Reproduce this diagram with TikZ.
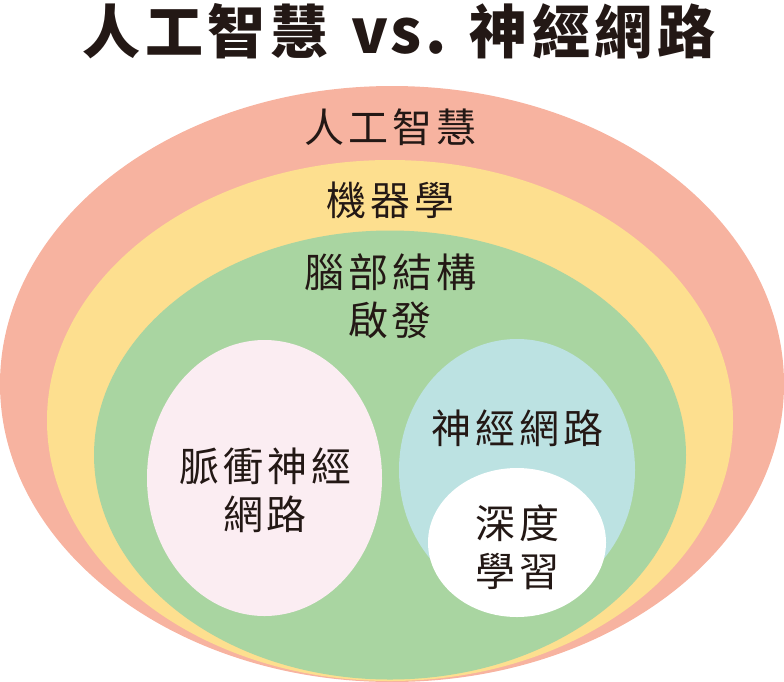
\documentclass[tikz,border=0pt]{standalone}
\usepackage{fontspec}
\newfontfamily\cjk{Noto Sans CJK TC}
\definecolor{salmon}{RGB}{247,179,160}
\definecolor{ylw}{RGB}{253,223,143}
\definecolor{grn}{RGB}{169,213,161}
\definecolor{pnk}{RGB}{251,237,242}
\definecolor{lblue}{RGB}{188,226,226}
\definecolor{ink}{RGB}{35,24,21}
\newcommand{\ks}{\kern4pt}
\newcommand{\kt}{\kern4.5pt}
\tikzset{
  blob/.style={draw=none},
  lbl/.style={font=\cjk\fontsize{40}{48}\selectfont, text=ink, align=center, inner sep=0pt},
  ttl/.style={font=\cjk\bfseries\fontsize{58}{60}\selectfont, text=ink, inner sep=0pt}
}
\begin{document}
\begin{tikzpicture}[x=1pt,y=-1pt]
\useasboundingbox (0,0) rectangle (784,681);
\begin{scope}
\clip (0,0) rectangle (784,681);
\fill[salmon] (392,384) ellipse [x radius=392, y radius=298];
\fill[ylw] (390,420.5) ellipse [x radius=343, y radius=260.5];
\fill[grn] (390,455) ellipse [x radius=296, y radius=224.5];
\fill[pnk] (264.5,478) ellipse [x radius=117.5, y radius=138];
\fill[lblue] (517,470) ellipse [x radius=118, y radius=131];
\fill[white] (517,542.5) ellipse [x radius=89, y radius=74.5];
\end{scope}
\node[ttl] (title) at (399,31) {人\kt 工\kt 智\kt 慧\kern23pt{\fontsize{61}{61}\selectfont v\kern2pt s\kern4pt .}\kern23pt 神\kt 經\kt 網\kt 路};
\node[lbl] (ai) at (390,127) {人\ks 工\ks 智\ks 慧};
\node[lbl] (ml) at (390,200) {機\ks 器\ks 學};
\node[lbl] (brain) at (390,296) {腦\ks 部\ks 結\ks 構\\啟\ks 發};
\node[lbl] (snn) at (265,490) {脈\ks 衝\ks 神\ks 經\\網\ks 路};
\node[lbl] (nn) at (517,428) {神\ks 經\ks 網\ks 路};
\node[lbl] (dl) at (517,547) {深\ks 度\\學\ks 習};
\end{tikzpicture}
\end{document}
